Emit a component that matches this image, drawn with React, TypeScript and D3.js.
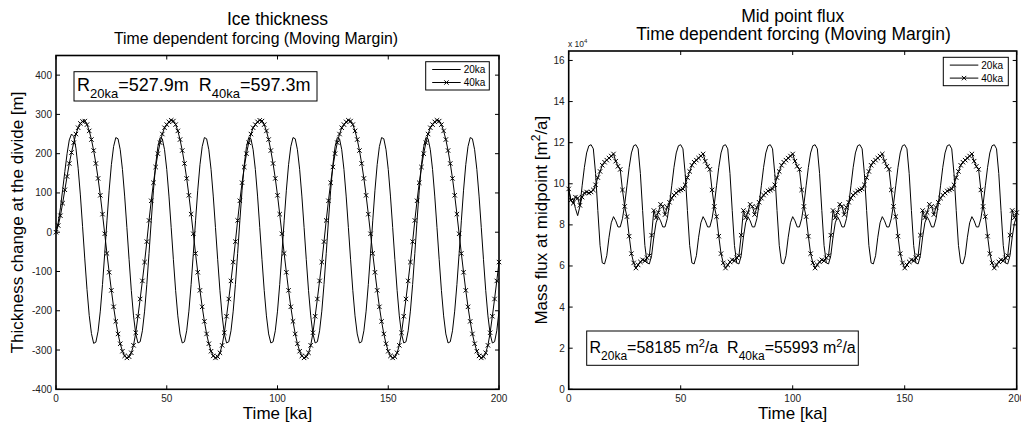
import React from 'react';
import * as d3 from 'd3';

const FONT = '"Liberation Sans", Arial, Helvetica, sans-serif';

// sample spacing of the model output (ka)
const STEP_KA = 1;
const xTicks = [0, 50, 100, 150, 200];
const iceYTicks = [-400, -300, -200, -100, 0, 100, 200, 300, 400];
const fluxYTicks = [0, 2, 4, 6, 8, 10, 12, 14, 16];
const seriesNames = ['20ka', '40ka'];

// Ice thickness change at the divide [m], 20 ka forcing
const ice20ka = [
  0, 25, 62, 108, 155, 200, 235, 250, 244, 214, 163, 95, 14, -68, -146, -212, -258, -283, -280, -252,
  -201, -133, -54, 29, 107, 172, 218, 241, 238, 210, 160, 92, 12, -70, -148, -213, -259, -282, -279, -251,
  -201, -133, -54, 29, 107, 172, 218, 241, 238, 210, 160, 92, 12, -70, -148, -213, -259, -282, -279, -251,
  -201, -133, -54, 29, 107, 172, 218, 241, 238, 210, 160, 92, 12, -70, -148, -213, -259, -282, -279, -251,
  -201, -133, -54, 29, 107, 172, 218, 241, 238, 210, 160, 92, 12, -70, -148, -213, -259, -282, -279, -251,
  -201, -133, -54, 29, 107, 172, 218, 241, 238, 210, 160, 92, 12, -70, -148, -213, -259, -282, -279, -251,
  -201, -133, -54, 29, 107, 172, 218, 241, 238, 210, 160, 92, 12, -70, -148, -213, -259, -282, -279, -251,
  -201, -133, -54, 29, 107, 172, 218, 241, 238, 210, 160, 92, 12, -70, -148, -213, -259, -282, -279, -251,
  -201, -133, -54, 29, 107, 172, 218, 241, 238, 210, 160, 92, 12, -70, -148, -213, -259, -282, -279, -251,
  -201, -133, -54, 29, 107, 172, 218, 241, 238, 210, 160, 92, 12, -70, -148, -213, -259, -282, -279, -251,
  -201,
];

// Ice thickness change at the divide [m], 40 ka forcing
const ice40ka = [
  0, 17, 42, 74, 108, 142, 175, 203, 228, 250, 266, 277, 282, 283,
  274, 258, 236, 208, 175, 137, 94, 46, -4, -54, -102, -148, -190, -227, -259, -284, -303, -315, -320, -317, -307, -288, -256, -214, -170, -124,
  -76, -24, 30, 80, 126, 166, 200, 228, 250, 266, 274, 281, 285, 283, 274, 258, 236, 208, 175, 137,
  94, 46, -4, -54, -102, -148, -190, -227, -259, -284, -303, -315, -320, -317, -307, -288, -256, -214, -170, -124,
  -76, -24, 30, 80, 126, 166, 200, 228, 250, 266, 274, 281, 285, 283, 274, 258, 236, 208, 175, 137,
  94, 46, -4, -54, -102, -148, -190, -227, -259, -284, -303, -315, -320, -317, -307, -288, -256, -214, -170, -124,
  -76, -24, 30, 80, 126, 166, 200, 228, 250, 266, 274, 281, 285, 283, 274, 258, 236, 208, 175, 137,
  94, 46, -4, -54, -102, -148, -190, -227, -259, -284, -303, -315, -320, -317, -307, -288, -256, -214, -170, -124,
  -76, -24, 30, 80, 126, 166, 200, 228, 250, 266, 274, 281, 285, 283, 274, 258, 236, 208, 175, 137,
  94, 46, -4, -54, -102, -148, -190, -227, -259, -284, -303, -315, -320, -317, -307, -288, -256, -214, -170, -124,
  -76,
];

// Mass flux at midpoint [x 10^4 m^2/a], 20 ka forcing
const flux20ka = [
  9.7, 9.2, 9.25, 8.8, 8.45, 8.9, 9.9, 10.8, 11.5, 11.85, 11.9, 11.7, 10.5, 8.7, 7.0, 6.15,
  6.1, 6.5, 7.4, 8.1, 8.4, 8.2, 7.9, 7.9, 8.3, 9.0, 9.9, 10.8, 11.5, 11.85, 11.9, 11.7, 10.5, 8.7, 7.0, 6.15,
  6.1, 6.5, 7.4, 8.1, 8.4, 8.2, 7.9, 7.9, 8.3, 9.0, 9.9, 10.8, 11.5, 11.85, 11.9, 11.7, 10.5, 8.7, 7.0, 6.15,
  6.1, 6.5, 7.4, 8.1, 8.4, 8.2, 7.9, 7.9, 8.3, 9.0, 9.9, 10.8, 11.5, 11.85, 11.9, 11.7, 10.5, 8.7, 7.0, 6.15,
  6.1, 6.5, 7.4, 8.1, 8.4, 8.2, 7.9, 7.9, 8.3, 9.0, 9.9, 10.8, 11.5, 11.85, 11.9, 11.7, 10.5, 8.7, 7.0, 6.15,
  6.1, 6.5, 7.4, 8.1, 8.4, 8.2, 7.9, 7.9, 8.3, 9.0, 9.9, 10.8, 11.5, 11.85, 11.9, 11.7, 10.5, 8.7, 7.0, 6.15,
  6.1, 6.5, 7.4, 8.1, 8.4, 8.2, 7.9, 7.9, 8.3, 9.0, 9.9, 10.8, 11.5, 11.85, 11.9, 11.7, 10.5, 8.7, 7.0, 6.15,
  6.1, 6.5, 7.4, 8.1, 8.4, 8.2, 7.9, 7.9, 8.3, 9.0, 9.9, 10.8, 11.5, 11.85, 11.9, 11.7, 10.5, 8.7, 7.0, 6.15,
  6.1, 6.5, 7.4, 8.1, 8.4, 8.2, 7.9, 7.9, 8.3, 9.0, 9.9, 10.8, 11.5, 11.85, 11.9, 11.7, 10.5, 8.7, 7.0, 6.15,
  6.1, 6.5, 7.4, 8.1, 8.4, 8.2, 7.9, 7.9, 8.3, 9.0, 9.9, 10.8, 11.5, 11.85, 11.9, 11.7, 10.5, 8.7, 7.0, 6.15,
  6.1, 6.5, 7.4, 8.1, 8.4,
];

// Mass flux at midpoint [x 10^4 m^2/a], 40 ka forcing
const flux40ka = [
  9.75, 9.2, 9.05, 9.35, 9.3, 8.95, 9.35, 9.55, 9.6, 9.55, 9.6, 9.7, 9.95, 10.3, 10.6, 10.9, 11.05, 11.15, 11.25, 11.35,
  11.45, 11.1, 10.85, 10.7, 9.7, 8.9, 8.4, 7.45, 6.6, 6.15, 5.9, 6.05, 6.2, 6.3, 6.25, 6.4, 6.5, 7.5, 8.7, 8.35,
  8.6, 9.0, 8.9, 8.5, 8.85, 9.1, 9.3, 9.45, 9.55, 9.65, 9.7, 9.75, 9.95, 10.3, 10.6, 10.9, 11.05, 11.15, 11.25, 11.35,
  11.45, 11.1, 10.85, 10.7, 9.7, 8.9, 8.4, 7.45, 6.6, 6.15, 5.9, 6.05, 6.2, 6.3, 6.25, 6.4, 6.5, 7.5, 8.7, 8.35,
  8.6, 9.0, 8.9, 8.5, 8.85, 9.1, 9.3, 9.45, 9.55, 9.65, 9.7, 9.75, 9.95, 10.3, 10.6, 10.9, 11.05, 11.15, 11.25, 11.35,
  11.45, 11.1, 10.85, 10.7, 9.7, 8.9, 8.4, 7.45, 6.6, 6.15, 5.9, 6.05, 6.2, 6.3, 6.25, 6.4, 6.5, 7.5, 8.7, 8.35,
  8.6, 9.0, 8.9, 8.5, 8.85, 9.1, 9.3, 9.45, 9.55, 9.65, 9.7, 9.75, 9.95, 10.3, 10.6, 10.9, 11.05, 11.15, 11.25, 11.35,
  11.45, 11.1, 10.85, 10.7, 9.7, 8.9, 8.4, 7.45, 6.6, 6.15, 5.9, 6.05, 6.2, 6.3, 6.25, 6.4, 6.5, 7.5, 8.7, 8.35,
  8.6, 9.0, 8.9, 8.5, 8.85, 9.1, 9.3, 9.45, 9.55, 9.65, 9.7, 9.75, 9.95, 10.3, 10.6, 10.9, 11.05, 11.15, 11.25, 11.35,
  11.45, 11.1, 10.85, 10.7, 9.7, 8.9, 8.4, 7.45, 6.6, 6.15, 5.9, 6.05, 6.2, 6.3, 6.25, 6.4, 6.5, 7.5, 8.7, 8.35,
  8.6,
];

const Cross = ({ x, y, r = 2.2 }) => (
  <path d={`M${x - r},${y - r}L${x + r},${y + r}M${x - r},${y + r}L${x + r},${y - r}`} stroke="#000" strokeWidth={1} fill="none" />
);

function Panel(p) {
  const xs = d3.scaleLinear().domain([0, 200]).range([p.x0, p.x1]);
  const ys = d3.scaleLinear().domain(p.yDomain).range([p.y1, p.y0]);
  const line = d3
    .line()
    .x((d, i) => xs(i * STEP_KA))
    .y((d) => ys(d));
  const tk = 4;
  const lb = p.legend;
  return (
    <g fontFamily={FONT}>
      {/* series */}
      <path d={line(p.s20)} fill="none" stroke="#000" strokeWidth={1} />
      <path d={line(p.s40)} fill="none" stroke="#000" strokeWidth={1} />
      {p.s40.map((d, i) => (
        <Cross key={i} x={xs(i * STEP_KA)} y={ys(d)} />
      ))}
      {/* frame */}
      <rect x={p.x0} y={p.y0} width={p.x1 - p.x0} height={p.y1 - p.y0} fill="none" stroke="#000" strokeWidth={1.6} />
      {xTicks.map((t) => (
        <g key={'x' + t}>
          <line x1={xs(t)} x2={xs(t)} y1={p.y1} y2={p.y1 - tk} stroke="#000" />
          <line x1={xs(t)} x2={xs(t)} y1={p.y0} y2={p.y0 + tk} stroke="#000" />
          <text x={xs(t)} y={p.y1 + 13} fontSize={10} textAnchor="middle" fill="#222">{t}</text>
        </g>
      ))}
      {p.yTicks.map((t) => (
        <g key={'y' + t}>
          <line x1={p.x0} x2={p.x0 + tk} y1={ys(t)} y2={ys(t)} stroke="#000" />
          <line x1={p.x1} x2={p.x1 - tk} y1={ys(t)} y2={ys(t)} stroke="#000" />
          <text x={p.x0 - 4} y={ys(t) + 3.5} fontSize={10} textAnchor="end" fill="#222">{t}</text>
        </g>
      ))}
      {/* legend */}
      <rect x={lb.x} y={lb.y} width={lb.w} height={lb.h} fill="#fff" stroke="#000" strokeWidth={1} />
      {seriesNames.map((n, i) => {
        const yy = lb.y + (i === 0 ? 7.8 : 20.8);
        return (
          <g key={n}>
            <line x1={lb.x + 6.5} x2={lb.x + 35} y1={yy} y2={yy} stroke="#000" />
            {i === 1 && <Cross x={lb.x + 20.75} y={yy} />}
            <text x={lb.x + 38} y={yy + 3.6} fontSize={10} fill="#000">{n}</text>
          </g>
        );
      })}
      {/* titles */}
      {p.titles.map((t, i) => (
        <text key={i} x={t.x} y={t.y} fontSize={t.size} textAnchor="middle" fill="#000">{t.text}</text>
      ))}
      <text x={(p.x0 + p.x1) / 2} y={419.3} fontSize={17} textAnchor="middle" fill="#000">Time [ka]</text>
      <text transform={`translate(${p.yLabelX},${(p.y0 + p.y1) / 2}) rotate(-90)`} fontSize={17} textAnchor="middle" fill="#000">{p.yLabel}</text>
      {p.extra}
    </g>
  );
}

export default function App() {
  return (
    <svg width={1021} height={425} style={{ position: 'absolute', left: 0, top: 0, background: '#fff' }}>
      <rect x={0} y={0} width={1021} height={425} fill="#fff" />
      <Panel
        x0={56}
        x1={499}
        y0={55.5}
        y1={389.3}
        yDomain={[-400, 450]}
        yTicks={iceYTicks}
        s20={ice20ka}
        s40={ice40ka}
        legend={{ x: 425.7, y: 61.7, w: 63.6, h: 28.3 }}
        titles={[
          { text: 'Ice thickness', x: 277.5, y: 25, size: 17.5 },
          { text: 'Time dependent forcing (Moving Margin)', x: 256, y: 43.5, size: 15.8 },
        ]}
        yLabelX={23.3}
        yLabel="Thickness change at the divide [m]"
        extra={
          <g>
            <rect x={74} y={71.7} width={243} height={29.3} fill="#fff" stroke="#000" strokeWidth={1} />
            <text x={77} y={90.5} fontSize={18} fill="#000" style={{ whiteSpace: 'pre' }}>
              R<tspan dy={7.5} fontSize={13}>20ka</tspan>
              <tspan dy={-7.5}>{'=527.9m  R'}</tspan>
              <tspan dy={7.5} fontSize={13}>40ka</tspan>
              <tspan dy={-7.5}>=597.3m</tspan>
            </text>
          </g>
        }
      />
      <Panel
        x0={568.7}
        x1={1016.7}
        y0={51}
        y1={389.3}
        yDomain={[0, 16.46]}
        yTicks={fluxYTicks}
        s20={flux20ka}
        s40={flux40ka}
        legend={{ x: 943.3, y: 57.3, w: 65, h: 28.4 }}
        titles={[
          { text: 'Mid point flux', x: 792.7, y: 21.7, size: 17.5 },
          { text: 'Time dependent forcing (Moving Margin)', x: 793.5, y: 40, size: 17.5 },
        ]}
        yLabelX={546.5}
        yLabel={
          <>
            Mass flux at midpoint [m<tspan dy={-7} fontSize={12}>2</tspan>
            <tspan dy={7}>/a]</tspan>
          </>
        }
        extra={
          <g>
            <text x={568} y={46.5} fontSize={8.5} fill="#222">
              x 10<tspan dy={-3.5} fontSize={6}>4</tspan>
            </text>
            <rect x={586.7} y={331} width={271.6} height={34.3} fill="#fff" stroke="#000" strokeWidth={1} />
            <text x={589.5} y={352.5} fontSize={16} fill="#000" style={{ whiteSpace: 'pre' }}>
              R<tspan dy={7} fontSize={12}>20ka</tspan>
              <tspan dy={-7}>=58185 m</tspan>
              <tspan dy={-6} fontSize={11}>2</tspan>
              <tspan dy={6}>{'/a  R'}</tspan>
              <tspan dy={7} fontSize={12}>40ka</tspan>
              <tspan dy={-7}>=55993 m</tspan>
              <tspan dy={-6} fontSize={11}>2</tspan>
              <tspan dy={6}>/a</tspan>
            </text>
          </g>
        }
      />
    </svg>
  );
}
